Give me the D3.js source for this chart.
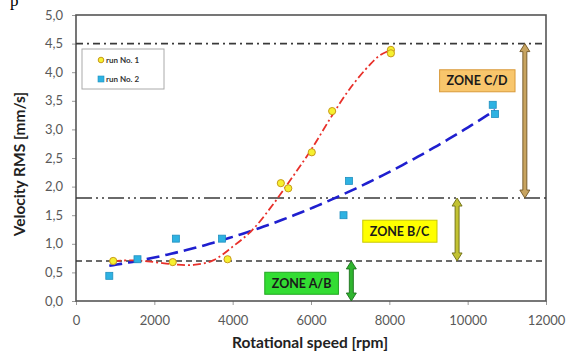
<!DOCTYPE html>
<meta charset="utf-8">
<html>
<head>
<script src="https://d3js.org/d3.v7.min.js"></script>
<style>
  body { margin: 0; background: #fff; }
  text { font-family: Lato, "Open Sans", sans-serif; }
</style>
</head>
<body>
<div id="chart"></div>
<script>

    // run data
    var run1Speed = [950, 2470, 3870, 5230, 5420, 6020, 6540, 8040, 8040];
    var run1Vel = [0.70, 0.68, 0.73, 2.06, 1.97, 2.60, 3.32, 4.39, 4.33];
    var run2Speed = [850, 1570, 2550, 3730, 6830, 6970, 10640, 10700];
    var run2Vel = [0.44, 0.73, 1.09, 1.09, 1.50, 2.10, 3.43, 3.27];

    // run 1 trend line
    var trend1Speed = [950, 1500, 2000, 2500, 3000, 3500, 4000, 4500, 5000, 5500, 6000, 6500, 7000, 7500, 7750, 8040];
    var trend1Vel = [0.70, 0.71, 0.68, 0.64, 0.63, 0.71, 0.95, 1.24, 1.66, 2.14, 2.64, 3.20, 3.72, 4.13, 4.29, 4.39];

    var xTicks = [0, 2000, 4000, 6000, 8000, 10000, 12000];
    var yTicks = [0, 0.5, 1, 1.5, 2, 2.5, 3, 3.5, 4, 4.5, 5];

    // zone limits
    var zoneNames = ["ZONE A/B", "ZONE B/C", "ZONE C/D"];
    var zoneLow = [0, 0.7, 1.8];
    var zoneHigh = [0.7, 1.8, 4.5];

    var margin = { top: 15, right: 27, bottom: 50, left: 76 },
        W = 573, H = 351,
        width = W - margin.left - margin.right,
        height = H - margin.top - margin.bottom;

    var svgRoot = d3.select("#chart").append("svg")
        .attr("width", W).attr("height", H);

    svgRoot.append("text").attr("x", 10).attr("y", 6)
        .style("font-family", "'Liberation Serif', serif")
        .style("font-size", "17px").text("p");

    var svg = svgRoot.append("g")
        .attr("transform", "translate(" + margin.left + "," + margin.top + ")");

    var x = d3.scaleLinear().domain([0, 12000]).range([0, width]);
    var y = d3.scaleLinear().domain([0, 5]).range([height, 0]);

    var fmt = function (d) { return d3.format(".1f")(d).replace(".", ","); };

    // axes
    var xAxis = svg.append("g")
        .attr("transform", "translate(0," + height + ")")
        .call(d3.axisBottom(x).tickValues(xTicks).tickSize(4).tickPadding(11).tickFormat(d3.format("d")));
    var yAxis = svg.append("g")
        .call(d3.axisLeft(y).tickValues(yTicks).tickSize(4).tickPadding(9).tickFormat(fmt));
    [xAxis, yAxis].forEach(function (a) {
        a.select(".domain").remove();
        a.selectAll("line").attr("stroke", "#999");
        a.selectAll("text").style("font-size", "13px").attr("fill", "#595959")
            .style("font-family", "Lato, sans-serif");
    });

    // plot frame
    svg.append("rect").attr("width", width).attr("height", height)
        .attr("fill", "none").attr("stroke", "#555").attr("stroke-width", 1.6);

    // zone limit lines
    var limitDash = { 0.7: "6,4", 1.8: "16,4,2,4,2,4", 4.5: "7,4,2,4" };
    [0.7, 1.8, 4.5].forEach(function (v) {
        svg.append("line").attr("x1", 0).attr("x2", width)
            .attr("y1", y(v)).attr("y2", y(v))
            .attr("stroke", "#3a3a3a").attr("stroke-width", 1.6)
            .attr("stroke-dasharray", limitDash[v]);
    });

    // least squares polynomial fit (like the spreadsheet trendline)
    function polyFit(xs, ys, order) {
        var n = order + 1, A = [], i, j, k;
        for (i = 0; i < n; i++) {
            A.push([]);
            for (j = 0; j < n; j++) A[i].push(d3.sum(xs, function (v) { return Math.pow(v / 1000, i + j); }));
            A[i].push(d3.sum(xs, function (v, m) { return ys[m] * Math.pow(v / 1000, i); }));
        }
        for (i = 0; i < n; i++) {
            var p = i;
            for (k = i + 1; k < n; k++) if (Math.abs(A[k][i]) > Math.abs(A[p][i])) p = k;
            var t = A[i]; A[i] = A[p]; A[p] = t;
            for (k = i + 1; k < n; k++) {
                var f = A[k][i] / A[i][i];
                for (j = i; j <= n; j++) A[k][j] -= f * A[i][j];
            }
        }
        var c = new Array(n);
        for (i = n - 1; i >= 0; i--) {
            var s = A[i][n];
            for (j = i + 1; j < n; j++) s -= A[i][j] * c[j];
            c[i] = s / A[i][i];
        }
        return function (v) {
            return c.reduce(function (acc, ci, m) { return acc + ci * Math.pow(v / 1000, m); }, 0);
        };
    }

    var lineGen = d3.line().x(function (d) { return x(d[0]); }).y(function (d) { return y(d[1]); });

    // run 2: quadratic trend
    var f2 = polyFit(run2Speed, run2Vel, 2);
    var lo = d3.min(run2Speed), hi = d3.max(run2Speed);
    var trend2 = d3.range(0, 101).map(function (i) { var v = lo + (hi - lo) * i / 100; return [v, f2(v)]; });

    svg.append("path").attr("d", lineGen(trend2))
        .attr("fill", "none").attr("stroke", "#1f1fcf").attr("stroke-width", 2.6)
        .attr("stroke-dasharray", "13,6");
    svg.append("path")
        .attr("d", lineGen.curve(d3.curveCatmullRom)(trend1Speed.map(function (s, i) { return [s, trend1Vel[i]]; })))
        .attr("fill", "none").attr("stroke", "#e8302a").attr("stroke-width", 1.8)
        .attr("stroke-dasharray", "8,3,2,3");

    // markers
    svg.selectAll(".r2").data(run2Speed).enter().append("rect")
        .attr("x", function (d) { return x(d) - 3.5; })
        .attr("y", function (d, i) { return y(run2Vel[i]) - 3.5; })
        .attr("width", 7).attr("height", 7)
        .attr("fill", "#2eb2e2").attr("stroke", "#1f8fbf").attr("stroke-width", 0.8);
    svg.selectAll(".r1").data(run1Speed).enter().append("circle")
        .attr("cx", function (d) { return x(d); })
        .attr("cy", function (d, i) { return y(run1Vel[i]); })
        .attr("r", 3.6)
        .attr("fill", "#f6f030").attr("stroke", "#c89a1a").attr("stroke-width", 1);

    // zone boxes and arrows
    var zoneBox = [
        { x: 5760, v: 0.31, fill: "#33dd33", stroke: "#22a622" },
        { x: 8260, v: 1.22, fill: "#ffff00", stroke: "#c9c900" },
        { x: 10240, v: 3.85, fill: "#f8c66c", stroke: "#d99a3a" }
    ];
    var arrowX = [7030, 9730, 11460];
    var arrowFill = ["#2fb52f", "#c2c232", "#c8a460"];
    var arrowStroke = ["#1c6f1c", "#6b6b14", "#6e5424"];

    zoneNames.forEach(function (name, i) {
        var b = zoneBox[i];
        var g = svg.append("g");
        var t = g.append("text").attr("x", x(b.x)).attr("y", y(b.v))
            .attr("text-anchor", "middle").attr("dy", "0.35em")
            .style("font-size", "12.5px").style("font-weight", "bold")
            .attr("fill", "#1a1a1a").text(name);
        var bb = t.node().getBBox();
        g.insert("rect", "text").attr("x", bb.x - 7).attr("y", y(b.v) - 11)
            .attr("width", bb.width + 14).attr("height", 22)
            .attr("fill", b.fill).attr("stroke", b.stroke).attr("stroke-width", 1);

        // double arrow
        var ax = x(arrowX[i]), y1 = y(zoneHigh[i]), y2 = y(zoneLow[i]);
        var hw = 5, sw = 2, hl = 8;
        var pts = [
            [ax, y1], [ax + hw, y1 + hl], [ax + sw, y1 + hl], [ax + sw, y2 - hl],
            [ax + hw, y2 - hl], [ax, y2], [ax - hw, y2 - hl], [ax - sw, y2 - hl],
            [ax - sw, y1 + hl], [ax - hw, y1 + hl]
        ];
        svg.append("path").attr("d", d3.line()(pts) + "Z")
            .attr("fill", arrowFill[i]).attr("stroke", arrowStroke[i]).attr("stroke-width", 0.9);
    });

    // legend
    var leg = svg.append("g").attr("transform", "translate(6,34)");
    leg.append("rect").attr("width", 82).attr("height", 40)
        .attr("fill", "#fff").attr("stroke", "#aaa").attr("stroke-width", 1);
    leg.append("circle").attr("cx", 19).attr("cy", 11).attr("r", 2.8)
        .attr("fill", "#f6f030").attr("stroke", "#c89a1a");
    leg.append("rect").attr("x", 16).attr("y", 27).attr("width", 6).attr("height", 6)
        .attr("fill", "#2eb2e2").attr("stroke", "#1f8fbf").attr("stroke-width", 0.6);
    leg.append("text").attr("x", 24).attr("y", 14).style("font-size", "8px")
        .style("font-weight", "bold").attr("fill", "#333").text("run No. 1");
    leg.append("text").attr("x", 24).attr("y", 33).style("font-size", "8px")
        .style("font-weight", "bold").attr("fill", "#333").text("run No. 2");

    // axis titles
    svgRoot.append("text").attr("x", 310).attr("y", 348)
        .attr("text-anchor", "middle").style("font-size", "15.5px").style("font-weight", "bold")
        .attr("fill", "#222").text("Rotational speed [rpm]");
    svgRoot.append("text").attr("transform", "translate(25,164) rotate(-90)")
        .attr("text-anchor", "middle").style("font-size", "15.5px").style("font-weight", "bold")
        .attr("fill", "#222").text("Velocity RMS [mm/s]");
</script>
</body>
</html>
